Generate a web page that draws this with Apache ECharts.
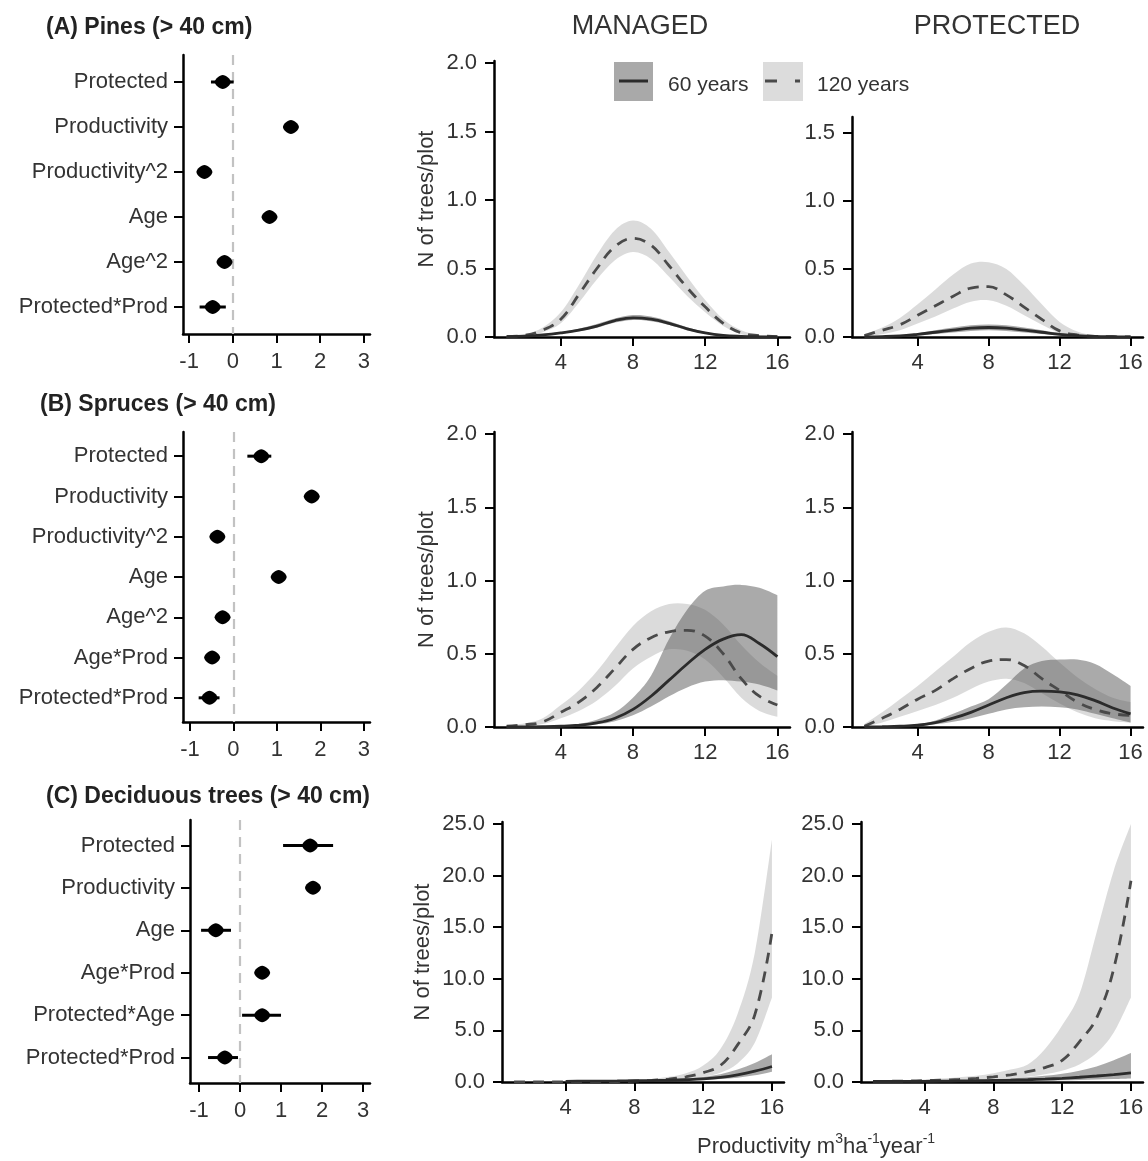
<!DOCTYPE html>
<html><head><meta charset="utf-8">
<script src="https://cdn.jsdelivr.net/npm/echarts@6/dist/echarts.min.js"></script>
<style>html,body{margin:0;padding:0;background:#fff}#c{width:1148px;height:1161px}</style>
</head><body><div id="c"></div>
<script>
// ---------- DATA ----------
// Forest plots (coefficient estimates with 95% CI)
const catsA = ['Protected','Productivity','Productivity^2','Age','Age^2','Protected*Prod'];
const estA  = [-0.23, 1.33, -0.65, 0.84, -0.19, -0.46];
const loA   = [-0.50, 1.22, -0.74, 0.76, -0.27, -0.76];
const hiA   = [ 0.02, 1.45, -0.56, 0.93, -0.11, -0.16];

const catsB = ['Protected','Productivity','Productivity^2','Age','Age^2','Age*Prod','Protected*Prod'];
const estB  = [0.64, 1.80, -0.37, 1.04, -0.25, -0.49, -0.55];
const loB   = [0.32, 1.66, -0.45, 0.95, -0.33, -0.57, -0.80];
const hiB   = [0.87, 1.94, -0.29, 1.13, -0.17, -0.41, -0.32];

const catsC = ['Protected','Productivity','Age','Age*Prod','Protected*Age','Protected*Prod'];
const estC  = [1.71, 1.78, -0.59, 0.54, 0.54, -0.37];
const loC   = [1.05, 1.66, -0.95, 0.45, 0.05, -0.78];
const hiC   = [2.27, 1.90, -0.22, 0.63, 1.00, -0.05];

// Predicted number of trees per plot along productivity
const prod = [1,2,3,4,5,6,7,8,9,10,11,12,13,14,15,16];
const prodTicks = [4, 8, 12, 16];
const coefTicks = [-1, 0, 1, 2, 3];

// (A) Pines - managed
const m120Am = [0.003,0.012,0.05,0.13,0.31,0.50,0.66,0.72,0.67,0.52,0.36,0.22,0.10,0.03,0.01,0.003];
const u120Am = [0.005,0.02,0.07,0.18,0.38,0.60,0.78,0.85,0.79,0.62,0.44,0.27,0.13,0.05,0.015,0.005];
const l120Am = [0.001,0.006,0.035,0.10,0.25,0.42,0.56,0.62,0.57,0.44,0.30,0.18,0.08,0.02,0.005,0.001];
const m60Am  = [0.002,0.006,0.015,0.03,0.05,0.08,0.12,0.14,0.13,0.10,0.06,0.03,0.012,0.005,0.002,0.001];
const u60Am  = [0.003,0.008,0.02,0.037,0.06,0.095,0.135,0.16,0.15,0.115,0.072,0.037,0.016,0.007,0.003,0.001];
const l60Am  = [0.001,0.004,0.011,0.024,0.042,0.067,0.105,0.125,0.115,0.088,0.05,0.024,0.009,0.003,0.001,0];
// (A) Pines - protected
const m120Ap = [0.01,0.05,0.09,0.16,0.23,0.30,0.36,0.37,0.31,0.22,0.13,0.045,0.015,0.005,0.002,0.001];
const u120Ap = [0.02,0.07,0.14,0.24,0.35,0.46,0.54,0.55,0.50,0.38,0.24,0.11,0.04,0.01,0.003,0.001];
const l120Ap = [0.005,0.02,0.05,0.10,0.15,0.21,0.26,0.27,0.23,0.16,0.09,0.03,0.008,0.002,0.001,0];
const m60Ap  = [0.001,0.003,0.008,0.02,0.035,0.05,0.065,0.07,0.065,0.05,0.035,0.02,0.01,0.004,0.002,0.001];
const u60Ap  = [0.002,0.005,0.012,0.028,0.05,0.07,0.087,0.092,0.087,0.07,0.05,0.03,0.015,0.006,0.003,0.001];
const l60Ap  = [0,0.001,0.004,0.012,0.022,0.033,0.045,0.05,0.045,0.033,0.022,0.012,0.005,0.002,0.001,0];
// (B) Spruces - managed
const m120Bm = [0.005,0.015,0.035,0.10,0.17,0.27,0.40,0.53,0.61,0.65,0.66,0.62,0.50,0.33,0.21,0.15];
const u120Bm = [0.008,0.025,0.06,0.15,0.25,0.38,0.54,0.69,0.79,0.84,0.84,0.80,0.70,0.56,0.44,0.35];
const l120Bm = [0.002,0.008,0.02,0.06,0.11,0.18,0.28,0.40,0.48,0.53,0.52,0.46,0.34,0.20,0.11,0.07];
const m60Bm  = [0,0.001,0.002,0.005,0.012,0.028,0.06,0.12,0.21,0.32,0.43,0.53,0.60,0.63,0.57,0.48];
const u60Bm  = [0,0.002,0.004,0.01,0.02,0.05,0.10,0.20,0.35,0.60,0.80,0.93,0.96,0.97,0.95,0.90];
const l60Bm  = [0,0,0.001,0.003,0.007,0.018,0.04,0.08,0.14,0.21,0.27,0.31,0.32,0.31,0.29,0.25];
// (B) Spruces - protected
const m120Bp = [0.005,0.06,0.12,0.19,0.25,0.33,0.40,0.45,0.46,0.42,0.33,0.25,0.17,0.12,0.09,0.08];
const u120Bp = [0.02,0.10,0.19,0.28,0.38,0.48,0.58,0.65,0.68,0.64,0.55,0.44,0.34,0.26,0.20,0.17];
const l120Bp = [0.001,0.03,0.07,0.11,0.15,0.20,0.26,0.31,0.33,0.30,0.23,0.16,0.10,0.06,0.04,0.03];
const m60Bp  = [0,0.002,0.005,0.012,0.03,0.06,0.10,0.15,0.20,0.235,0.245,0.24,0.22,0.18,0.13,0.09];
const u60Bp  = [0,0.003,0.008,0.02,0.045,0.09,0.14,0.19,0.29,0.40,0.45,0.46,0.46,0.43,0.36,0.28];
const l60Bp  = [0,0.001,0.003,0.007,0.018,0.035,0.06,0.09,0.12,0.135,0.14,0.135,0.12,0.09,0.06,0.03];
// (C) Deciduous - managed
const m120Cm = [0.001,0.002,0.004,0.008,0.015,0.03,0.05,0.09,0.16,0.28,0.5,0.9,1.6,3.6,6.5,14.5];
const u120Cm = [0.002,0.004,0.008,0.015,0.03,0.05,0.09,0.16,0.28,0.5,0.85,1.6,3.2,6.6,12.5,23.5];
const l120Cm = [0,0.001,0.002,0.004,0.008,0.015,0.03,0.05,0.09,0.16,0.28,0.5,0.9,1.8,3.8,8.2];
const m60Cm  = [null,null,null,0.07,0.08,0.09,0.1,0.12,0.14,0.17,0.22,0.3,0.45,0.7,1.05,1.5];
const u60Cm  = [0.08,0.08,0.09,0.1,0.11,0.12,0.14,0.17,0.2,0.25,0.33,0.48,0.75,1.2,1.85,2.7];
const l60Cm  = [0.03,0.03,0.04,0.05,0.06,0.06,0.07,0.08,0.1,0.12,0.15,0.2,0.28,0.42,0.65,1.0];
// (C) Deciduous - protected
const m120Cp = [0.05,0.07,0.1,0.13,0.18,0.25,0.35,0.5,0.7,1.0,1.4,2.1,3.9,6.2,11.0,19.5];
const u120Cp = [0.08,0.12,0.17,0.24,0.33,0.45,0.6,0.85,1.2,1.7,3.2,5.5,8.5,14.5,20.5,25.0];
const l120Cp = [0.02,0.03,0.05,0.07,0.1,0.13,0.18,0.25,0.35,0.5,0.75,1.1,1.7,2.8,4.8,8.2];
const m60Cp  = [0.05,0.05,0.06,0.07,0.08,0.1,0.12,0.15,0.18,0.22,0.28,0.36,0.46,0.58,0.72,0.88];
const u60Cp  = [0.08,0.09,0.1,0.12,0.14,0.17,0.21,0.27,0.35,0.45,0.6,0.8,1.1,1.5,2.1,2.8];
const l60Cp  = [0.02,0.02,0.03,0.03,0.04,0.05,0.06,0.08,0.1,0.12,0.14,0.17,0.2,0.24,0.28,0.33];

const yTicksSmall = [0, 0.5, 1.0, 1.5, 2.0];
const yTicksSmallP = [0, 0.5, 1.0, 1.5];
const yTicksBig = [0, 5, 10, 15, 20, 25];

// ---------- STYLE / BUILD ----------
const FONT = '"Liberation Sans", Arial, sans-serif';
const TXT = '#333';
const AXC = '#000';
const LIGHT = 'rgba(0,0,0,0.14)';
const DARK = 'rgba(85,85,85,0.5)';
const DIAMOND = 'path://M0,-10 C4,-10 10,-4 10,0 C10,4 4,10 0,10 C-4,10 -10,4 -10,0 C-10,-4 -4,-10 0,-10 Z';

const grids = [], xAxes = [], yAxes = [], series = [];

function baseAxis(gi) {
  return {
    gridIndex: gi,
    axisLine: { show: true, onZero: false, lineStyle: { color: AXC, width: 2.5 } },
    splitLine: { show: false },
  };
}

function forest(grid, cats, est, lo, hi, xmin, xmax) {
  const gi = grids.length;
  grids.push(Object.assign({ outerBoundsMode: 'none', containLabel: false }, grid));
  xAxes.push(Object.assign(baseAxis(gi), {
    type: 'value', min: xmin, max: xmax,
    axisTick: { show: true, customValues: coefTicks, length: 9, lineStyle: { color: AXC, width: 2 } },
    axisLabel: { customValues: coefTicks, fontSize: 22, color: TXT, fontFamily: FONT, margin: 17 },
  }));
  const idx = cats.map((c, i) => i + 1);
  yAxes.push(Object.assign(baseAxis(gi), {
    type: 'value', inverse: true, min: 0.4, max: cats.length + 0.6,
    axisTick: { show: true, customValues: idx, length: 9, lineStyle: { color: AXC, width: 2 } },
    axisLabel: { customValues: idx, fontSize: 22, color: TXT, fontFamily: FONT, margin: 15,
      formatter: v => cats[Math.round(v) - 1] || '' },
  }));
  series.push({
    type: 'custom', xAxisIndex: gi, yAxisIndex: gi, clip: false, z: 3, silent: true,
    data: est.map((e, i) => [lo[i], i + 1, hi[i]]),
    encode: { x: [0, 2], y: 1 },
    renderItem: (params, api) => {
      const a = api.coord([api.value(0), api.value(1)]);
      const b = api.coord([api.value(2), api.value(1)]);
      return { type: 'line', shape: { x1: a[0], y1: a[1], x2: b[0], y2: b[1] },
        style: { stroke: '#000', lineWidth: 3 } };
    }
  });
  series.push({
    type: 'scatter', xAxisIndex: gi, yAxisIndex: gi, z: 4, silent: true,
    symbol: DIAMOND, symbolSize: [16, 14],
    itemStyle: { color: '#000', opacity: 1 },
    data: est.map((e, i) => [e, i + 1]),
    markLine: { silent: true, symbol: ['none', 'none'], label: { show: false },
      lineStyle: { color: '#c2c2c2', width: 2.2, type: [10, 7] },
      data: [{ xAxis: 0 }], z: 1 }
  });
}

// Catmull-Rom style smooth path through pixel points
function smoothSeg(pts, t) {
  let s = '';
  for (let i = 0; i < pts.length - 1; i++) {
    const p0 = pts[Math.max(0, i - 1)], p1 = pts[i], p2 = pts[i + 1], p3 = pts[Math.min(pts.length - 1, i + 2)];
    const c1 = [p1[0] + (p2[0] - p0[0]) * t / 6, p1[1] + (p2[1] - p0[1]) * t / 6];
    const c2 = [p2[0] - (p3[0] - p1[0]) * t / 6, p2[1] - (p3[1] - p1[1]) * t / 6];
    s += ' C' + c1[0] + ',' + c1[1] + ' ' + c2[0] + ',' + c2[1] + ' ' + p2[0] + ',' + p2[1];
  }
  return s;
}

function curve(grid, ymax, yticks, yname, nameGap, d) {
  const gi = grids.length;
  grids.push(Object.assign({ outerBoundsMode: 'none', containLabel: false }, grid));
  xAxes.push(Object.assign(baseAxis(gi), {
    type: 'value', min: 0.3, max: 16.7,
    axisTick: { show: true, customValues: prodTicks, length: 9, lineStyle: { color: AXC, width: 2 } },
    axisLabel: { customValues: prodTicks, fontSize: 22, color: TXT, fontFamily: FONT, margin: 15 },
  }));
  yAxes.push(Object.assign(baseAxis(gi), {
    type: 'value', min: 0, max: ymax,
    name: yname, nameLocation: 'middle', nameRotate: 90, nameGap: nameGap,
    nameTextStyle: { fontSize: 22, color: TXT, fontFamily: FONT },
    axisTick: { show: true, customValues: yticks, length: 9, lineStyle: { color: AXC, width: 2 } },
    axisLabel: { customValues: yticks, fontSize: 22, color: TXT, fontFamily: FONT, margin: 17,
      formatter: v => v.toFixed(1) },
  }));
  const band = (lo, up, color) => {
    series.push({
      type: 'custom', xAxisIndex: gi, yAxisIndex: gi, silent: true, z: 1, clip: true,
      data: prod.map((x, i) => [x, lo[i], up[i]]),
      encode: { x: 0, y: [1, 2] },
      renderItem: (params, api) => {
        if (params.dataIndex !== 0) return null;
        const top = prod.map((x, i) => api.coord([x, up[i]]));
        const bot = prod.map((x, i) => api.coord([x, lo[i]])).reverse();
        const path = 'M' + top[0][0] + ',' + top[0][1] + smoothSeg(top, 1) +
          ' L' + bot[0][0] + ',' + bot[0][1] + smoothSeg(bot, 1) + ' Z';
        return { type: 'path', shape: { pathData: path }, style: { fill: color } };
      }
    });
  };
  band(d.l120, d.u120, LIGHT);
  band(d.l60, d.u60, DARK);
  series.push({ type: 'line', xAxisIndex: gi, yAxisIndex: gi, symbol: 'none', smooth: 0.4,
    silent: true, z: 3, lineStyle: { color: '#4a4a4a', width: 2.8, type: [11, 8] },
    data: prod.map((x, i) => [x, d.m120[i]]) });
  series.push({ type: 'line', xAxisIndex: gi, yAxisIndex: gi, symbol: 'none', smooth: 0.4,
    silent: true, z: 3, lineStyle: { color: '#2b2b2b', width: 2.8 },
    data: prod.map((x, i) => [x, d.m60[i]]) });
}

// Forest panels
forest({ left: 183, top: 55, width: 187, height: 279 }, catsA, estA, loA, hiA, -1.14, 3.14);
forest({ left: 183, top: 432, width: 187, height: 290 }, catsB, estB, loB, hiB, -1.16, 3.14);
forest({ left: 190, top: 820, width: 180, height: 263 }, catsC, estC, loC, hiC, -1.22, 3.17);

// Curve panels
const NAME = 'N of trees/plot';
curve({ left: 494, top: 61, width: 296, height: 276 }, 2.015, yTicksSmall, NAME, 56,
  { m120: m120Am, u120: u120Am, l120: l120Am, m60: m60Am, u60: u60Am, l60: l60Am });
curve({ left: 852, top: 117, width: 291, height: 220 }, 1.618, yTicksSmallP, '', 50,
  { m120: m120Ap, u120: u120Ap, l120: l120Ap, m60: m60Ap, u60: u60Ap, l60: l60Ap });
curve({ left: 494, top: 432, width: 296, height: 295 }, 2.014, yTicksSmall, NAME, 56,
  { m120: m120Bm, u120: u120Bm, l120: l120Bm, m60: m60Bm, u60: u60Bm, l60: l60Bm });
curve({ left: 852, top: 432, width: 291, height: 295 }, 2.014, yTicksSmall, '', 50,
  { m120: m120Bp, u120: u120Bp, l120: l120Bp, m60: m60Bp, u60: u60Bp, l60: l60Bp });
curve({ left: 502, top: 822, width: 282, height: 260 }, 25.2, yTicksBig, NAME, 68,
  { m120: m120Cm, u120: u120Cm, l120: l120Cm, m60: m60Cm, u60: u60Cm, l60: l60Cm });
curve({ left: 861, top: 822, width: 282, height: 260 }, 25.2, yTicksBig, '', 50,
  { m120: m120Cp, u120: u120Cp, l120: l120Cp, m60: m60Cp, u60: u60Cp, l60: l60Cp });

const txt = (x, y, text, size, extra) => ({
  type: 'text', x: x, y: y, silent: true, z: 100,
  style: Object.assign({ text: text, fontSize: size, fontFamily: FONT, fill: TXT,
    align: 'left', verticalAlign: 'middle' }, extra || {})
});

const graphic = [
  txt(46, 28, '(A) Pines (> 40 cm)', 23, { fontWeight: 'bold', fill: '#222' }),
  txt(40, 405, '(B) Spruces (> 40 cm)', 23, { fontWeight: 'bold', fill: '#222' }),
  txt(46, 797, '(C) Deciduous trees (> 40 cm)', 23, { fontWeight: 'bold', fill: '#222' }),
  txt(640, 27, 'MANAGED', 27, { align: 'center' }),
  txt(997, 27, 'PROTECTED', 27, { align: 'center' }),
  // legend
  { type: 'rect', silent: true, z: 100, shape: { x: 614, y: 62, width: 39, height: 39 }, style: { fill: '#a9a9a9' } },
  { type: 'line', silent: true, z: 101, shape: { x1: 619, y1: 81, x2: 648, y2: 81 }, style: { stroke: '#2b2b2b', lineWidth: 3 } },
  txt(668, 85, '60 years', 21),
  { type: 'rect', silent: true, z: 100, shape: { x: 763, y: 62, width: 40, height: 39 }, style: { fill: '#dcdcdc' } },
  { type: 'line', silent: true, z: 101, shape: { x1: 765, y1: 81, x2: 800, y2: 81 }, style: { stroke: '#4a4a4a', lineWidth: 3, lineDash: [12, 18] } },
  txt(817, 85, '120 years', 21),
  // x axis title
  { type: 'text', x: 697, y: 1147, silent: true, z: 100,
    style: { text: '{a|Productivity m}{s|3}{a|ha}{s|-1}{a|year}{s|-1}', align: 'left', verticalAlign: 'middle',
      rich: {
        a: { fontSize: 22, fontFamily: FONT, fill: TXT, lineHeight: 30 },
        s: { fontSize: 14, fontFamily: FONT, fill: TXT, lineHeight: 12, verticalAlign: 'top' }
      } } }
];

const chart = echarts.init(document.getElementById('c'), null, { renderer: 'canvas' });
chart.setOption({
  animation: false,
  backgroundColor: '#fff',
  grid: grids, xAxis: xAxes, yAxis: yAxes, series: series, graphic: graphic
});
</script></body></html>
